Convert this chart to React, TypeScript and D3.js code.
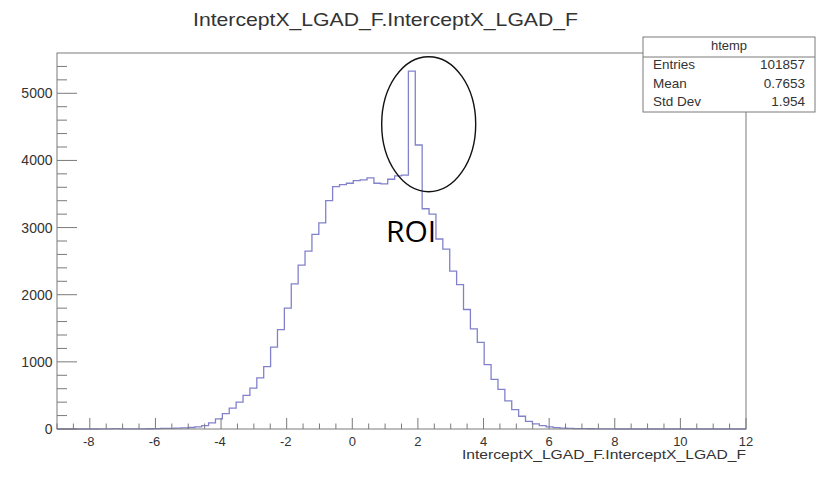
import React from "react";
import * as d3 from "d3";

const xMin = -9;
const xMax = 12;
const yMax = 5600;
const binWidth = 0.21;

const counts: number[] = [
  0, 0, 0, 0, 0, 0, 1, 2, 6, 1,
  1, 2, 3, 4, 5, 8, 10, 14, 16, 22,
  32, 50, 90, 150, 230, 310, 400, 500, 610, 760,
  930, 1220, 1480, 1800, 2160, 2440, 2650, 2900, 3070, 3400,
  3610, 3640, 3660, 3700, 3710, 3740, 3660, 3650, 3720, 3770,
  3780, 5330, 4230, 3280, 3200, 2830, 2680, 2350, 2150, 1780,
  1490, 1290, 960, 740, 590, 420, 290, 190, 115, 75,
  50, 32, 20, 14, 10, 7, 5, 4, 3, 2,
  1, 0, 0, 0, 0, 0, 0, 0, 0, 0,
  0, 0, 0, 0, 0, 0, 0, 0, 0, 0,
];

const xMajorTicks = [-8, -6, -4, -2, 0, 2, 4, 6, 8, 10, 12];
const yMajorTicks = [0, 1000, 2000, 3000, 4000, 5000];

const titleText = "InterceptX_LGAD_F.InterceptX_LGAD_F";
const xAxisTitle = "InterceptX_LGAD_F.InterceptX_LGAD_F";
const statsName = "htemp";
const statsLabels = ["Entries", "Mean", "Std Dev"];
const statsValues = ["101857", "0.7653", "1.954"];
const annotation = "ROI";

export default function App() {
  const left = 57, right = 746, top = 53, bottom = 429;
  const x = d3.scaleLinear().domain([xMin, xMax]).range([left, right]);
  const y = d3.scaleLinear().domain([0, yMax]).range([bottom, top]);

  const pts: [number, number][] = [[xMin, 0]];
  counts.forEach((c, i) => {
    const x0 = xMin + i * binWidth;
    pts.push([x0, c]);
    pts.push([x0 + binWidth, c]);
  });
  pts.push([xMax, 0]);
  const line = d3.line<[number, number]>().x((d) => x(d[0])).y((d) => y(d[1]));

  const xMinor = d3.range(xMin, xMax + 0.001, 0.5);
  const yMinor = d3.range(0, yMax, 200);

  const axisColor = "#7a7a7a";
  const textColor = "#333";
  const font = "'Liberation Sans', Arial, Helvetica, sans-serif";

  return (
    <svg
      width={820}
      height={477}
      style={{ position: "absolute", left: 0, top: 0, background: "#fff" }}
      fontFamily={font}
    >
      <rect x={0} y={0} width={820} height={477} fill="#fff" />
      <text x={385.5} y={26} fontSize={19} textAnchor="middle" fill={textColor}
        textLength={385} lengthAdjust="spacingAndGlyphs">{titleText}</text>

      {/* histogram */}
      <path d={line(pts) || ""} fill="none" stroke="#8282cc" strokeWidth={1.3} />

      {/* frame */}
      <rect x={left} y={top} width={right - left} height={bottom - top} fill="none" stroke={axisColor} strokeWidth={1} />

      {/* x ticks */}
      {xMinor.map((t) => {
        const major = Math.abs(t / 2 - Math.round(t / 2)) < 1e-6;
        return (
          <line key={"xm" + t} x1={x(t)} x2={x(t)} y1={bottom} y2={bottom - (major ? 11 : 5.5)} stroke={axisColor} strokeWidth={1} />
        );
      })}
      {xMajorTicks.map((t) => (
        <text key={"xl" + t} x={x(t) + (t < 0 ? -1 : 0)} y={446} fontSize={13} textAnchor="middle" fill={textColor}>
          {t < 0 ? "-" + Math.abs(t) : String(t)}
        </text>
      ))}
      <text x={right} y={459} fontSize={12.5} textAnchor="end" fill={textColor}
        textLength={284} lengthAdjust="spacingAndGlyphs">{xAxisTitle}</text>

      {/* y ticks */}
      {yMinor.map((t) => {
        const major = t % 1000 === 0;
        return (
          <line key={"ym" + t} x1={left} x2={left + (major ? 20 : 10)} y1={y(t)} y2={y(t)} stroke={axisColor} strokeWidth={1} />
        );
      })}
      {yMajorTicks.map((t) => (
        <text key={"yl" + t} x={52.5} y={y(t) + 5} fontSize={14} textAnchor="end" fill={textColor}>
          {String(t)}
        </text>
      ))}

      {/* stats box */}
      <rect x={643} y={37} width={172} height={75} fill="#fff" stroke={axisColor} strokeWidth={1} />
      <line x1={643} x2={815} y1={57} y2={57} stroke={axisColor} strokeWidth={1} />
      <text x={729} y={50} fontSize={13} textAnchor="middle" fill={textColor}>{statsName}</text>
      {statsLabels.map((l, i) => (
        <text key={"sl" + l} x={653} y={69 + i * 18.5} fontSize={13.5} fill={textColor}>{l}</text>
      ))}
      {statsValues.map((v, i) => (
        <text key={"sv" + v} x={805} y={69 + i * 18.5} fontSize={13.5} textAnchor="end" fill={textColor}>{v}</text>
      ))}

      {/* annotation */}
      <ellipse cx={428.7} cy={124.2} rx={47} ry={67.5} fill="none" stroke="#111" strokeWidth={1.4} />
      <text x={386} y={242} fontSize={30} fill="#000" fontFamily="'Open Sans', 'Noto Sans', sans-serif">{annotation}</text>
    </svg>
  );
}
